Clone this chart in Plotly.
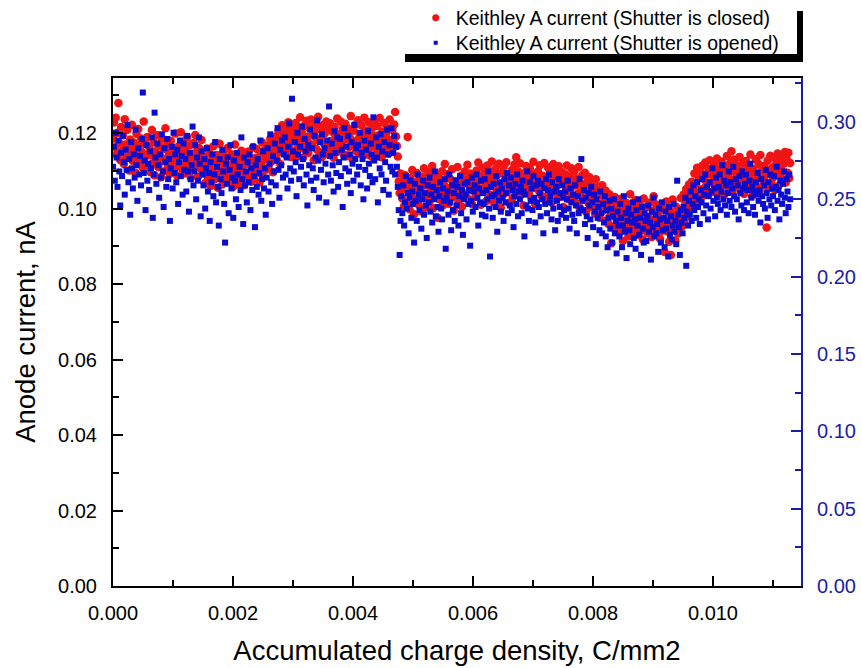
import plotly.graph_objects as go

# Accumulated charge density, in units of 1e-6 C/mm2
charge_u = [
    0, 15, 30, 45, 60, 75, 90, 105, 120, 135,
    151, 166, 181, 196, 211, 226, 241, 256, 271, 286,
    301, 316, 331, 346, 361, 376, 391, 406, 421, 436,
    452, 467, 482, 497, 512, 527, 542, 557, 572, 587,
    603, 618, 633, 648, 663, 678, 693, 708, 723, 738,
    754, 769, 784, 799, 814, 829, 844, 859, 874, 889,
    904, 919, 934, 949, 964, 979, 994, 1009, 1024, 1039,
    1055, 1070, 1085, 1100, 1115, 1130, 1145, 1160, 1175, 1190,
    1206, 1221, 1236, 1251, 1266, 1281, 1296, 1311, 1326, 1341,
    1356, 1371, 1386, 1401, 1416, 1431, 1446, 1461, 1476, 1491,
    1507, 1522, 1537, 1552, 1567, 1582, 1597, 1612, 1627, 1642,
    1658, 1673, 1688, 1703, 1718, 1733, 1748, 1763, 1778, 1793,
    1808, 1823, 1838, 1853, 1868, 1883, 1898, 1913, 1928, 1943,
    1959, 1974, 1989, 2004, 2019, 2034, 2049, 2064, 2079, 2094,
    2110, 2125, 2140, 2155, 2170, 2185, 2200, 2215, 2230, 2245,
    2261, 2276, 2291, 2306, 2321, 2336, 2351, 2366, 2381, 2396,
    2411, 2426, 2441, 2456, 2471, 2486, 2501, 2516, 2531, 2546,
    2562, 2577, 2592, 2607, 2622, 2637, 2652, 2667, 2682, 2697,
    2713, 2728, 2743, 2758, 2773, 2788, 2803, 2818, 2833, 2848,
    2863, 2878, 2893, 2908, 2923, 2938, 2953, 2968, 2983, 2998,
    3014, 3029, 3044, 3059, 3074, 3089, 3104, 3119, 3134, 3149,
    3165, 3180, 3195, 3210, 3225, 3240, 3255, 3270, 3285, 3300,
    3315, 3330, 3345, 3360, 3375, 3390, 3405, 3420, 3435, 3450,
    3466, 3481, 3496, 3511, 3526, 3541, 3556, 3571, 3586, 3601,
    3617, 3632, 3647, 3662, 3677, 3692, 3707, 3722, 3737, 3752,
    3768, 3783, 3798, 3813, 3828, 3843, 3858, 3873, 3888, 3903,
    3918, 3933, 3948, 3963, 3978, 3993, 4008, 4023, 4038, 4053,
    4069, 4084, 4099, 4114, 4129, 4144, 4159, 4174, 4189, 4204,
    4220, 4235, 4250, 4265, 4280, 4295, 4310, 4325, 4340, 4355,
    4370, 4385, 4400, 4415, 4430, 4445, 4460, 4475, 4490, 4505,
    4521, 4536, 4551, 4566, 4581, 4596, 4611, 4626, 4641, 4656,
    4672, 4687, 4702, 4717, 4732, 4747, 4762, 4777, 4792, 4807,
    4822, 4837, 4852, 4867, 4882, 4897, 4912, 4927, 4942, 4957,
    4973, 4988, 5003, 5018, 5033, 5048, 5063, 5078, 5093, 5108,
    5124, 5139, 5154, 5169, 5184, 5199, 5214, 5229, 5244, 5259,
    5275, 5290, 5305, 5320, 5335, 5350, 5365, 5380, 5395, 5410,
    5425, 5440, 5455, 5470, 5485, 5500, 5515, 5530, 5545, 5560,
    5576, 5591, 5606, 5621, 5636, 5651, 5666, 5681, 5696, 5711,
    5727, 5742, 5757, 5772, 5787, 5802, 5817, 5832, 5847, 5862,
    5877, 5892, 5907, 5922, 5937, 5952, 5967, 5982, 5997, 6012,
    6028, 6043, 6058, 6073, 6088, 6103, 6118, 6133, 6148, 6163,
    6179, 6194, 6209, 6224, 6239, 6254, 6269, 6284, 6299, 6314,
    6329, 6344, 6359, 6374, 6389, 6404, 6419, 6434, 6449, 6464,
    6480, 6495, 6510, 6525, 6540, 6555, 6570, 6585, 6600, 6615,
    6631, 6646, 6661, 6676, 6691, 6706, 6721, 6736, 6751, 6766,
    6782, 6797, 6812, 6827, 6842, 6857, 6872, 6887, 6902, 6917,
    6932, 6947, 6962, 6977, 6992, 7007, 7022, 7037, 7052, 7067,
    7083, 7098, 7113, 7128, 7143, 7158, 7173, 7188, 7203, 7218,
    7234, 7249, 7264, 7279, 7294, 7309, 7324, 7339, 7354, 7369,
    7384, 7399, 7414, 7429, 7444, 7459, 7474, 7489, 7504, 7519,
    7535, 7550, 7565, 7580, 7595, 7610, 7625, 7640, 7655, 7670,
    7686, 7701, 7716, 7731, 7746, 7761, 7776, 7791, 7806, 7821,
    7836, 7851, 7866, 7881, 7896, 7911, 7926, 7941, 7956, 7971,
    7987, 8002, 8017, 8032, 8047, 8062, 8077, 8092, 8107, 8122,
    8138, 8153, 8168, 8183, 8198, 8213, 8228, 8243, 8258, 8273,
    8289, 8304, 8319, 8334, 8349, 8364, 8379, 8394, 8409, 8424,
    8439, 8454, 8469, 8484, 8499, 8514, 8529, 8544, 8559, 8574,
    8590, 8605, 8620, 8635, 8650, 8665, 8680, 8695, 8710, 8725,
    8741, 8756, 8771, 8786, 8801, 8816, 8831, 8846, 8861, 8876,
    8891, 8906, 8921, 8936, 8951, 8966, 8981, 8996, 9011, 9026,
    9042, 9057, 9072, 9087, 9102, 9117, 9132, 9147, 9162, 9177,
    9193, 9208, 9223, 9238, 9253, 9268, 9283, 9298, 9313, 9328,
    9343, 9358, 9373, 9388, 9403, 9418, 9433, 9448, 9463, 9478,
    9494, 9509, 9524, 9539, 9554, 9569, 9584, 9599, 9614, 9629,
    9645, 9660, 9675, 9690, 9705, 9720, 9735, 9750, 9765, 9780,
    9796, 9811, 9826, 9841, 9856, 9871, 9886, 9901, 9916, 9931,
    9946, 9961, 9976, 9991, 10006, 10021, 10036, 10051, 10066, 10081,
    10097, 10112, 10127, 10142, 10157, 10172, 10187, 10202, 10217, 10232,
    10248, 10263, 10278, 10293, 10308, 10323, 10338, 10353, 10368, 10383,
    10398, 10413, 10428, 10443, 10458, 10473, 10488, 10503, 10518, 10533,
    10549, 10564, 10579, 10594, 10609, 10624, 10639, 10654, 10669, 10684,
    10700, 10715, 10730, 10745, 10760, 10775, 10790, 10805, 10820, 10835,
    10850, 10865, 10880, 10895, 10910, 10925, 10940, 10955, 10970, 10985,
    11001, 11016, 11031, 11046, 11061, 11076, 11091, 11106, 11121, 11136,
    11152, 11167, 11182, 11197, 11212, 11227, 11242, 11257, 11272, 11287,
]

# Anode current with shutter closed, in units of 1e-4 nA (left axis)
closed_u = [
    1185, 1228, 1162, 1241, 1143, 1201, 1280, 1174, 1129, 1216,
    1153, 1194, 1118, 1237, 1170, 1136, 1209, 1162, 1101, 1183,
    1147, 1222, 1126, 1175, 1158, 1095, 1198, 1139, 1211, 1168,
    1122, 1186, 1150, 1109, 1231, 1134, 1172, 1114, 1190, 1145,
    1163, 1097, 1141, 1208, 1120, 1176, 1088, 1152, 1129, 1194,
    1110, 1167, 1139, 1083, 1185, 1126, 1158, 1099, 1213, 1133,
    1171, 1115, 1147, 1092, 1180, 1124, 1160, 1138, 1104, 1199,
    1131, 1087, 1164, 1118, 1150, 1202, 1107, 1142, 1177, 1093,
    1156, 1121, 1189, 1100, 1136, 1168, 1081, 1145, 1116, 1174,
    1128, 1195, 1111, 1153, 1085, 1161, 1134, 1106, 1182, 1140,
    1094, 1137, 1068, 1121, 1159, 1083, 1112, 1146, 1060, 1127,
    1101, 1165, 1077, 1118, 1089, 1142, 1055, 1130, 1172, 1096,
    1123, 1064, 1149, 1108, 1081, 1135, 1098, 1161, 1072, 1115,
    1087, 1144, 1106, 1058, 1126, 1170, 1093, 1119, 1066, 1139,
    1110, 1076, 1153, 1097, 1132, 1062, 1117, 1148, 1085, 1124,
    1151, 1090, 1128, 1071, 1107, 1163, 1079, 1134, 1102, 1158,
    1095, 1120, 1069, 1141, 1113, 1175, 1084, 1129, 1156, 1103,
    1138, 1167, 1109, 1146, 1185, 1124, 1159, 1096, 1172, 1143,
    1191, 1130, 1164, 1207, 1149, 1118, 1182, 1221, 1155, 1196,
    1169, 1213, 1142, 1188, 1229, 1161, 1204, 1137, 1179, 1218,
    1196, 1153, 1227, 1174, 1140, 1209, 1186, 1242, 1162, 1201,
    1134, 1219, 1178, 1155, 1233, 1190, 1147, 1214, 1171, 1236,
    1167, 1205, 1128, 1192, 1224, 1158, 1181, 1243, 1149, 1210,
    1186, 1137, 1221, 1173, 1199, 1154, 1231, 1165, 1208, 1142,
    1226, 1179, 1160, 1203, 1135, 1217, 1188, 1150, 1239, 1172,
    1157, 1198, 1230, 1166, 1211, 1144, 1183, 1225, 1139, 1194,
    1212, 1163, 1187, 1245, 1176, 1131, 1206, 1170, 1222, 1152,
    1181, 1234, 1146, 1195, 1168, 1220, 1159, 1200, 1241, 1175,
    1143, 1207, 1184, 1229, 1161, 1197, 1138, 1215, 1177, 1232,
    1164, 1193, 1219, 1151, 1185, 1240, 1172, 1136, 1204, 1188,
    1227, 1156, 1199, 1174, 1213, 1145, 1236, 1182, 1160, 1209,
    1178, 1223, 1256, 1191, 1166, 1138, 1072, 1041, 1093, 1058,
    1027, 1074, 1006, 1089, 1052, 1015, 1190, 1063, 998, 1081,
    1036, 1102, 1048, 985, 1069, 1023, 1094, 1057, 1011, 1078,
    1044, 992, 1085, 1030, 1107, 1061, 1003, 1072, 1039, 1096,
    1018, 1066, 1050, 1113, 1001, 1076, 1034, 1088, 1059, 976,
    1083, 1025, 1070, 1042, 1099, 1009, 1064, 1118, 1037, 1055,
    1091, 1013, 1047, 1079, 1028, 1104, 1060, 994, 1073, 1035,
    1058, 1110, 1021, 1067, 1045, 1087, 1005, 1071, 1032, 1098,
    1040, 1077, 1116, 1026, 1062, 1093, 1049, 1012, 1084, 1053,
    1069, 1031, 1101, 1057, 1122, 1043, 1086, 1010, 1075, 1108,
    1048, 1092, 1066, 1020, 1114, 1079, 1038, 1097, 1061, 1125,
    1083, 1017, 1070, 1105, 1052, 1089, 1033, 1119, 1064, 1002,
    1095, 1058, 1111, 1040, 1076, 1123, 1046, 1087, 1015, 1071,
    1054, 1102, 1029, 1081, 1117, 1062, 1136, 1044, 1099, 1073,
    1120, 1036, 1085, 1060, 1008, 1094, 1067, 1113, 1050, 1078,
    1041, 1106, 1072, 1027, 1090, 1124, 1055, 1012, 1084, 1063,
    1098, 1047, 1115, 1074, 1034, 1087, 1058, 1121, 1069, 1022,
    1077, 1109, 1039, 1093, 1061, 1016, 1082, 1118, 1045, 1100,
    1056, 1088, 1028, 1112, 1070, 1037, 1097, 1065, 1004, 1080,
    1091, 1046, 1114, 1063, 1025, 1085, 1052, 1107, 1033, 1070,
    1099, 1018, 1061, 1080, 1039, 1110, 1003, 1067, 1044, 1088,
    1026, 1059, 1095, 992, 1048, 1072, 1015, 1083, 1036, 1004,
    1066, 1021, 1053, 987, 1078, 1034, 1009, 1057, 976, 1041,
    1013, 1062, 994, 1030, 968, 1047, 1006, 1025, 959, 1038,
    982, 908, 1019, 951, 997, 1031, 944, 973, 1008, 962,
    935, 989, 1026, 958, 914, 1002, 971, 947, 1015, 983,
    926, 966, 1038, 991, 949, 1011, 938, 979, 1022, 955,
    997, 930, 963, 1009, 942, 985, 918, 1027, 969, 953,
    1004, 936, 978, 948, 1016, 961, 925, 994, 1033, 944,
    972, 1011, 932, 988, 951, 920, 1006, 964, 941, 999,
    885, 957, 1019, 940, 976, 912, 992, 877, 961, 1024,
    947, 983, 915, 1005, 959, 934, 996, 970, 1028, 952,
    988, 1037, 962, 1015, 1052, 979, 1026, 1064, 1001, 1043,
    1071, 1010, 1055, 1093, 1029, 1067, 1108, 1040, 1082, 1019,
    1097, 1051, 1114, 1035, 1078, 1122, 1060, 1091, 1046, 1105,
    1128, 1069, 1101, 1044, 1086, 1117, 1058, 1095, 1133, 1074,
    1042, 1106, 1081, 1125, 1063, 1097, 1036, 1112, 1070, 1139,
    1088, 1054, 1119, 1077, 1152, 1045, 1103, 1130, 1066, 1094,
    1115, 1059, 1087, 1137, 1048, 1100, 1073, 1121, 1039, 1083,
    1126, 1068, 1109, 1052, 1091, 1143, 1076, 1034, 1104, 1064,
    1096, 1131, 1057, 1085, 1118, 1047, 1142, 1079, 1102, 1061,
    1113, 1071, 1089, 950, 1127, 1054, 1098, 1140, 1066, 1108,
    1082, 1135, 1049, 1116, 1093, 1146, 1060, 1124, 1087, 1103,
    1138, 1075, 1119, 1150, 1069, 1132, 1095, 1148, 1081, 1121,
]

# Anode current with shutter opened, in units of 1e-3 nA (right axis)
opened_u = [
    271, 284, 262, 293, 277, 258, 288, 268, 246, 280,
    265, 291, 274, 253, 282, 269, 298, 261, 276, 240,
    287, 270, 257, 279, 264, 295, 272, 249, 283, 266,
    278, 259, 289, 319, 267, 275, 243, 285, 262, 273,
    256, 281, 270, 290, 238, 266, 306, 277, 260, 286,
    272, 251, 279, 264, 292, 268, 245, 283, 274, 258,
    289, 263, 276, 236, 270, 284, 257, 293, 267, 279,
    261, 282, 247, 274, 288, 265, 278, 253, 286, 269,
    276, 255, 291, 268, 242, 280, 263, 272, 297, 259,
    268, 285, 250, 277, 262, 290, 273, 239, 281, 266,
    259, 276, 244, 270, 283, 255, 267, 236, 274, 261,
    279, 252, 266, 287, 248, 271, 258, 233, 276, 263,
    254, 282, 268, 247, 222, 273, 260, 277, 241, 269,
    285, 257, 264, 238, 275, 262, 250, 280, 266, 245,
    271, 256, 290, 263, 234, 277, 259, 268, 248, 274,
    261, 279, 243, 270, 256, 284, 265, 232, 272, 258,
    276, 253, 267, 288, 249, 263, 281, 257, 270, 240,
    264, 283, 255, 273, 292, 261, 247, 278, 268, 286,
    259, 275, 296, 269, 251, 282, 272, 288, 264, 279,
    290, 266, 277, 257, 284, 299, 270, 262, 315, 281,
    268, 287, 274, 252, 293, 279, 263, 284, 271, 297,
    276, 259, 289, 281, 266, 246, 285, 272, 295, 262,
    283, 270, 256, 291, 277, 264, 301, 275, 251, 287,
    269, 292, 279, 261, 283, 273, 248, 288, 266, 310,
    278, 262, 286, 272, 255, 294, 280, 267, 290, 258,
    274, 289, 265, 282, 245, 277, 296, 270, 284, 260,
    291, 268, 279, 254, 287, 273, 262, 298, 276, 283,
    266, 285, 271, 293, 259, 280, 276, 250, 288, 269,
    282, 257, 294, 273, 265, 286, 279, 261, 303, 275,
    263, 290, 277, 248, 284, 270, 292, 266, 281, 256,
    287, 274, 262, 295, 279, 253, 285, 271, 296, 268,
    280, 291, 266, 284, 271, 258, 243, 214, 236, 252,
    241, 259, 233, 248, 265, 244, 254, 228, 251, 262,
    238, 255, 247, 222, 260, 249, 236, 266, 253, 243,
    257, 231, 250, 262, 240, 254, 246, 225, 259, 248,
    264, 242, 253, 235, 258, 250, 268, 239, 256, 245,
    229, 252, 261, 244, 237, 257, 249, 263, 218, 251,
    255, 240, 266, 248, 230, 259, 243, 254, 236, 262,
    246, 258, 233, 252, 265, 241, 256, 227, 250, 260,
    253, 237, 261, 247, 256, 220, 249, 264, 242, 255,
    259, 245, 266, 251, 233, 257, 248, 262, 240, 254,
    247, 263, 239, 256, 250, 268, 244, 213, 258, 252,
    238, 260, 253, 245, 265, 229, 255, 249, 261, 242,
    257, 251, 236, 263, 248, 254, 267, 241, 259, 246,
    264, 243, 256, 232, 252, 260, 247, 266, 239, 255,
    250, 258, 241, 262, 255, 226, 253, 246, 268, 244,
    236, 261, 249, 257, 243, 265, 251, 235, 259, 248,
    262, 245, 254, 239, 260, 250, 228, 257, 247, 263,
    241, 256, 266, 248, 252, 237, 261, 244, 255, 230,
    258, 249, 236, 263, 245, 254, 240, 259, 251, 243,
    255, 238, 250, 262, 244, 231, 257, 248, 240, 253,
    236, 259, 246, 228, 252, 241, 263, 244, 276, 249,
    243, 256, 234, 251, 239, 225, 254, 246, 237, 258,
    248, 232, 253, 242, 221, 250, 238, 245, 230, 255,
    241, 228, 247, 235, 252, 226, 243, 219, 238, 249,
    231, 244, 222, 239, 250, 228, 236, 215, 242, 233,
    226, 247, 238, 219, 233, 252, 229, 241, 212, 236,
    244, 230, 221, 240, 235, 248, 225, 237, 218, 243,
    233, 250, 227, 238, 214, 245, 231, 222, 241, 236,
    223, 239, 246, 229, 235, 211, 242, 232, 251, 226,
    240, 228, 234, 216, 244, 237, 222, 248, 230, 238,
    219, 242, 231, 236, 213, 245, 227, 239, 224, 233,
    247, 229, 236, 221, 262, 240, 232, 214, 243, 235,
    228, 245, 238, 251, 207, 242, 233, 249, 240, 255,
    236, 247, 259, 243, 252, 238, 261, 245, 250, 234,
    256, 248, 263, 241, 253, 266, 246, 258, 237, 252,
    261, 244, 255, 270, 249, 257, 239, 264, 251, 247,
    258, 266, 243, 255, 272, 250, 262, 246, 259, 240,
    254, 268, 249, 261, 245, 257, 271, 252, 242, 263,
    250, 259, 237, 265, 254, 246, 268, 257, 243, 260,
    266, 248, 256, 241, 262, 273, 251, 258, 245, 255,
    240, 261, 253, 267, 249, 256, 235, 263, 252, 247,
    259, 244, 269, 254, 238, 261, 250, 266, 246, 257,
    252, 265, 243, 258, 271, 249, 256, 237, 262, 253,
    247, 260, 268, 251, 241, 263, 255, 245, 266, 250,
]

n = min(len(charge_u), len(closed_u), len(opened_u))
charge = [v * 1e-6 for v in charge_u[:n]]
closed = [v * 1e-4 for v in closed_u[:n]]
opened = [v * 1e-3 for v in opened_u[:n]]

NAME_CLOSED = "Keithley A current (Shutter is closed)"
NAME_OPENED = "Keithley A current (Shutter is opened)"

FONT = "Liberation Sans, Arial, sans-serif"
RED = "#f01414"
BLUE = "#0c0cd0"
AXIS_BLUE = "#1c1ca8"

fig = go.Figure()
fig.add_trace(go.Scatter(
    x=charge, y=closed, mode="markers", name=NAME_CLOSED, showlegend=False,
    marker=dict(symbol="circle", size=8.5, color=RED, line=dict(width=0)),
))
fig.add_trace(go.Scatter(
    x=charge, y=opened, mode="markers", yaxis="y2", name=NAME_OPENED, showlegend=False,
    marker=dict(symbol="square", size=6, color=BLUE, line=dict(width=0)),
))

# legend keys, drawn with smaller symbols, one entry per legend box row
fig.add_trace(go.Scatter(
    x=[None], y=[None], mode="markers", name=NAME_CLOSED, legend="legend",
    marker=dict(symbol="circle", size=7, color=RED, line=dict(width=0)),
))
fig.add_trace(go.Scatter(
    x=[None], y=[None], mode="markers", name=NAME_OPENED, legend="legend2",
    marker=dict(symbol="square", size=4, color=BLUE, line=dict(width=0)),
))

# drop shadow behind the legend box
shadow = dict(type="rect", xref="paper", yref="paper", line_width=0, fillcolor="black", layer="above")
fig.add_shape(x0=0.4244, x1=1.0029, y0=1.0315, y1=1.0472, **shadow)
fig.add_shape(x0=0.9942, x1=1.0029, y0=1.0315, y1=1.1319, **shadow)

legend_style = dict(
    x=0.4400, xanchor="left", yanchor="middle",
    bgcolor="rgba(255,255,255,0)", borderwidth=0,
    font=dict(size=19.5, family=FONT, color="black"),
    itemsizing="trace",
)

fig.update_layout(
    width=861, height=668,
    margin=dict(l=113, r=60, t=78, b=82, autoexpand=False),
    paper_bgcolor="white", plot_bgcolor="white",
    font=dict(family=FONT, size=20, color="black"),
    showlegend=True,
    legend=dict(y=1.1181, **legend_style),
    legend2=dict(y=1.0689, **legend_style),
    xaxis=dict(
        range=[0, 0.011467], dtick=0.002, tick0=0, tickformat=".3f",
        showgrid=False, zeroline=False, automargin=False,
        showline=True, linecolor="black", linewidth=2, mirror="ticks",
        ticks="inside", ticklen=10, tickwidth=1.5, tickcolor="black",
        minor=dict(ticks="inside", ticklen=6, dtick=0.001, tickwidth=1.5, tickcolor="black"),
        ticklabelstandoff=8,
        title=dict(text="Accumulated charge density, C/mm2", font=dict(size=27.5), standoff=18),
    ),
    yaxis=dict(
        range=[0, 0.1346], dtick=0.02, tick0=0, tickformat=".2f",
        showgrid=False, zeroline=False, automargin=False,
        showline=True, linecolor="black", linewidth=2,
        ticks="inside", ticklen=10, tickwidth=1.5, tickcolor="black",
        minor=dict(ticks="inside", ticklen=6, dtick=0.01, tickwidth=1.5, tickcolor="black"),
        ticklabelstandoff=10,
        title=dict(text="Anode current, nA", font=dict(size=27.5), standoff=14),
    ),
    yaxis2=dict(
        overlaying="y", side="right",
        range=[0, 0.3284], dtick=0.05, tick0=0, tickformat=".2f",
        showgrid=False, zeroline=False, automargin=False,
        showline=True, linecolor=AXIS_BLUE, linewidth=2,
        ticks="inside", ticklen=10, tickwidth=1.5, tickcolor=AXIS_BLUE,
        minor=dict(ticks="inside", ticklen=6, dtick=0.025, tickwidth=1.5, tickcolor=AXIS_BLUE),
        tickfont=dict(color=AXIS_BLUE, size=20),
        ticklabelstandoff=10,
    ),
)

fig.write_html("out.html")
